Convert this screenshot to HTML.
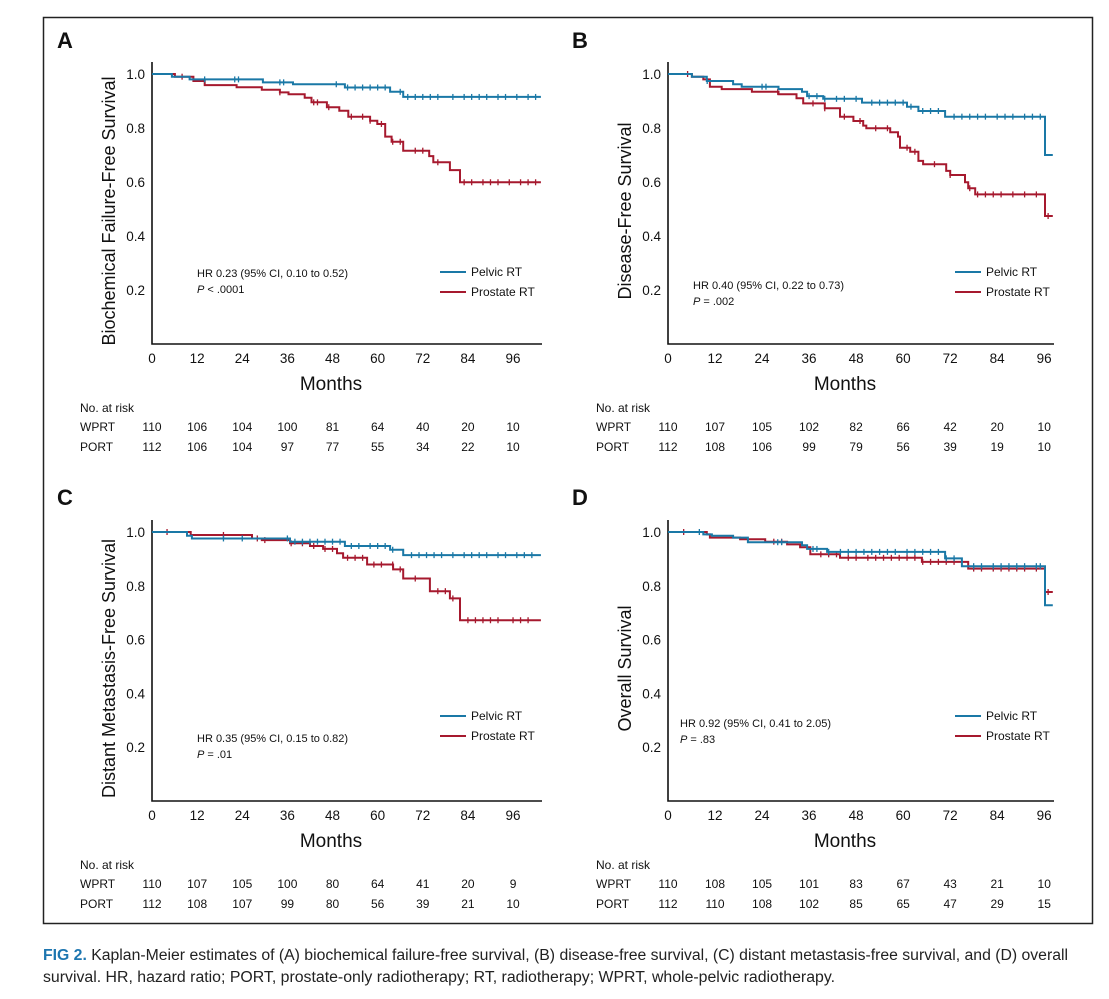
<!DOCTYPE html>
<html><head><meta charset="utf-8"><style>
body{margin:0;background:#fff;}
svg{display:block;font-family:"Liberation Sans",Arial,sans-serif;}
</style></head><body>
<svg id="fig" width="1109" height="999" viewBox="0 0 1109 999">
<rect x="43.5" y="17.5" width="1049" height="906" fill="none" stroke="#222" stroke-width="1.5"/>
<text x="43" y="960" font-size="15.5" fill="#222" textLength="1025" lengthAdjust="spacingAndGlyphs"><tspan fill="#1d76b0" font-weight="bold">FIG 2.</tspan> Kaplan-Meier estimates of (A) biochemical failure-free survival, (B) disease-free survival, (C) distant metastasis-free survival, and (D) overall</text>
<text x="43" y="982" font-size="15.5" fill="#222" textLength="792" lengthAdjust="spacingAndGlyphs">survival. HR, hazard ratio; PORT, prostate-only radiotherapy; RT, radiotherapy; WPRT, whole-pelvic radiotherapy.</text>
</svg>
<script>
// ---- data ----
const panelLetters = ["A","B","C","D"];
const yTitles = ["Biochemical Failure-Free Survival","Disease-Free Survival","Distant Metastasis-Free Survival","Overall Survival"];
const xTicks = [0,12,24,36,48,60,72,84,96];
const yTicks = [0.2,0.4,0.6,0.8,1.0];
const hrText = ["HR 0.23 (95% CI, 0.10 to 0.52)","HR 0.40 (95% CI, 0.22 to 0.73)","HR 0.35 (95% CI, 0.15 to 0.82)","HR 0.92 (95% CI, 0.41 to 2.05)"];
const pText = ["< .0001","= .002","= .01","= .83"];
const riskWPRT = [[110,106,104,100,81,64,40,20,10],[110,107,105,102,82,66,42,20,10],[110,107,105,100,80,64,41,20,9],[110,108,105,101,83,67,43,21,10]];
const riskPORT = [[112,106,104,97,77,55,34,22,10],[112,108,106,99,79,56,39,19,10],[112,108,107,99,80,56,39,21,10],[112,110,108,102,85,65,47,29,15]];
// step series: [time, survival after drop]
const pelvicA = [[5.3,0.99],[10,0.98],[29.5,0.969],[37.5,0.962],[51.3,0.95],[63.3,0.934],[66.8,0.915]];
const prostateA = [[6.1,0.99],[11,0.974],[14,0.959],[22.5,0.951],[29.2,0.942],[34,0.932],[36.3,0.925],[40.6,0.912],[42.4,0.895],[46.5,0.877],[49.8,0.864],[52.2,0.842],[58,0.827],[59.9,0.815],[62,0.768],[63.7,0.749],[66.8,0.716],[73.7,0.696],[74.8,0.673],[79.2,0.644],[81.9,0.599]];
const pelvicB = [[6.1,0.99],[9.9,0.974],[16.6,0.962],[18.8,0.953],[28.2,0.944],[34.2,0.934],[35.5,0.918],[39.6,0.908],[49.5,0.894],[61,0.879],[63.9,0.863],[70.7,0.842],[96.2,0.70]];
const prostateB = [[6.1,0.99],[9,0.98],[10.7,0.953],[13.7,0.944],[21.4,0.934],[28.2,0.925],[32.8,0.91],[34.5,0.891],[40,0.873],[43.9,0.842],[47.3,0.826],[49.8,0.809],[50.6,0.799],[56.7,0.784],[58.7,0.768],[59.2,0.727],[61.8,0.712],[63.9,0.678],[65.1,0.666],[71,0.641],[72,0.626],[75.8,0.599],[76.6,0.577],[78.4,0.554],[96.2,0.474]];
const pelvicC = [[9.3,0.986],[10.6,0.976],[36.7,0.964],[51.3,0.948],[63.3,0.934],[66.8,0.914]];
const prostateC = [[10.3,0.989],[26.6,0.976],[29.2,0.97],[36.7,0.958],[42,0.948],[45.5,0.937],[49.2,0.921],[50.8,0.904],[57.2,0.879],[64.1,0.861],[66.8,0.827],[73.9,0.78],[79.2,0.753],[81.9,0.672]];
const pelvicD = [[9,0.991],[11.2,0.986],[16.6,0.979],[20.4,0.962],[34.2,0.951],[35.5,0.937],[40.6,0.926],[70.7,0.902],[75,0.873],[96.2,0.728]];
const prostateD = [[9.9,0.991],[10.7,0.979],[18.4,0.973],[24.8,0.964],[30.4,0.954],[33.7,0.943],[36.3,0.917],[43.9,0.904],[64.8,0.889],[76.6,0.864],[96.2,0.777]];
// censor times
const censPelvicA = [14,22,23,34,35,49,52,54,56,58,60,62,66,68,70,72,74,76,80,83,85,87,89,92,94,97,100,102];
const censProstateA = [8,34,43,44,47,53,56,58,61,64,66,70,72,76,83,85,88,90,92,95,98,100,102];
const censPelvicB = [10,24,25,36,38,40,43,45,48,52,54,56,58,60,62,65,67,69,73,75,77,79,81,84,86,88,91,93,95];
const censProstateB = [5,28,37,40,45,49,53,56,61,63,68,72,77,79,81,83,85,88,91,94,97];
const censPelvicC = [19,24,36,38,40,42,44,46,48,50,53,55,58,60,62,64,69,71,73,75,77,80,83,85,87,89,92,94,97,99,101];
const censProstateC = [4,19,28,30,37,40,43,46,48,52,54,56,59,61,64,66,70,76,78,80,84,86,88,90,92,96,98,100];
const censPelvicD = [8,28,29,37,38,41,44,46,48,50,52,54,56,58,61,63,65,67,69,71,73,78,80,83,85,87,89,91,94,95];
const censProstateD = [4,27,29,39,41,43,46,48,51,53,55,57,59,61,63,65,67,69,71,73,78,80,83,85,87,89,91,94,97];

const seriesP = [pelvicA,pelvicB,pelvicC,pelvicD];
const seriesR = [prostateA,prostateB,prostateC,prostateD];
const censP = [censPelvicA,censPelvicB,censPelvicC,censPelvicD];
const censR = [censProstateA,censProstateB,censProstateC,censProstateD];

const BLUE="#1a78a6", RED="#a6192e";
const svg=document.getElementById('fig');
const NS="http://www.w3.org/2000/svg";
function mk(tag,attrs,parent){const e=document.createElementNS(NS,tag);for(const k in attrs)e.setAttribute(k,attrs[k]);(parent||svg).appendChild(e);return e;}
function txt(x,y,s,size,anchor,parent,extra){const e=mk('text',Object.assign({x:x,y:y,'font-size':size,'text-anchor':anchor||'start',fill:'#111'},extra||{}),parent);e.textContent=s;return e;}

const geo=[
 {x0:152,x1:542,tmax:103.7,y0:344,yTop:62,letterX:57,letterY:48,dy:0},
 {x0:668,x1:1054,tmax:98.5,y0:344,yTop:62,letterX:572,letterY:48,dy:0},
 {x0:152,x1:542,tmax:103.7,y0:801,yTop:520,letterX:57,letterY:505,dy:458},
 {x0:668,x1:1054,tmax:98.5,y0:801,yTop:520,letterX:572,letterY:505,dy:458}
];
const hrPos=[[197,277],[693,289],[197,742],[680,727]];
const legPos=[[440,276],[955,276],[440,720],[955,720]];

for(let p=0;p<4;p++){
 const g=geo[p];
 const grp=mk('g',{});
 
 
 const ys=(g.y0-(p<2?74:532))/1.0;
 const X=t=>g.x0+t*(g.x1-g.x0)/g.tmax;
 const Y=s=>g.y0-s*ys;
 const L=txt(g.letterX,g.letterY,panelLetters[p],22,'start',grp,{'font-weight':'bold'});
 
 
 const ax=mk('path',{d:`M${g.x0},${g.yTop} V${g.y0} H${g.x1}`,fill:'none',stroke:'#111','stroke-width':1.6},grp);
 
 
 yTicks.forEach(v=>{const e=txt(g.x0-7,Y(v)+5,v.toFixed(1),13.5,'end',grp);
  
  });
 xTicks.forEach(v=>{const e=txt(X(v),g.y0+19,String(v),13.5,'middle',grp);
  
  });
 const yt=txt(0,0,yTitles[p],18,'middle',grp,{transform:`translate(${g.x0-37},${(g.yTop+g.y0)/2+8}) rotate(-90)`});
 
 
 const xt=txt((g.x0+g.x1)/2-16,g.y0+46,'Months',19,'middle',grp);
 
 
 // risk table
 const rx=g.x0-72, ry=g.y0+68;
 const r0=txt(rx,ry,'No. at risk',12,'start',grp);
 
 
 const r1=txt(rx,ry+19,'WPRT',12,'start',grp);
 
 
 const r2=txt(rx,ry+39,'PORT',12,'start',grp);
 
 
 xTicks.forEach((t,i)=>{
  const a=txt(X(t),ry+19,String(riskWPRT[p][i]),12,'middle',grp);
  
  
  const b=txt(X(t),ry+39,String(riskPORT[p][i]),12,'middle',grp);
  
  
 });
 // HR
 const h=txt(hrPos[p][0],hrPos[p][1],hrText[p],11,'start',grp);
 
 
 const pv=txt(hrPos[p][0],hrPos[p][1]+16,'',11,'start',grp);
 
 
 pv.innerHTML='<tspan font-style="italic">P</tspan> '+pText[p];
 // legend
 const [lx,ly]=legPos[p];
 [[BLUE,'Pelvic RT'],[RED,'Prostate RT']].forEach((it,i)=>{
  const ln=mk('line',{x1:lx,x2:lx+26,y1:ly-4+i*20,y2:ly-4+i*20,stroke:it[0],'stroke-width':2},grp);
  
  
  const t=txt(lx+31,ly+i*20,it[1],12,'start',grp);
  
  
 });
 // curves
 function stepVal(arr,t){let s=1;for(const d of arr){if(d[0]<=t)s=d[1];}return s;}
 [[seriesR[p],censR[p],RED,'prostate-rt-curve'],[seriesP[p],censP[p],BLUE,'pelvic-rt-curve']].forEach(([arr,cens,col,name])=>{
  let d=`M${X(0)},${Y(1)}`;let prev=1;
  arr.forEach(([t,s])=>{d+=` H${X(t).toFixed(1)} V${Y(s).toFixed(1)}`;prev=s;});
  d+=` H${X(g.tmax-0.3).toFixed(1)}`;
  const path=mk('path',{d:d,fill:'none',stroke:col,'stroke-width':2},grp);
  
  
  cens.forEach(t=>{
   const cy=Y(stepVal(arr,t)),cx=X(t);
   const c=mk('line',{x1:cx,x2:cx,y1:cy-3,y2:cy+3,stroke:col,'stroke-width':1.3},grp);
   
   
  });
 });
}
</script>
</body></html>
